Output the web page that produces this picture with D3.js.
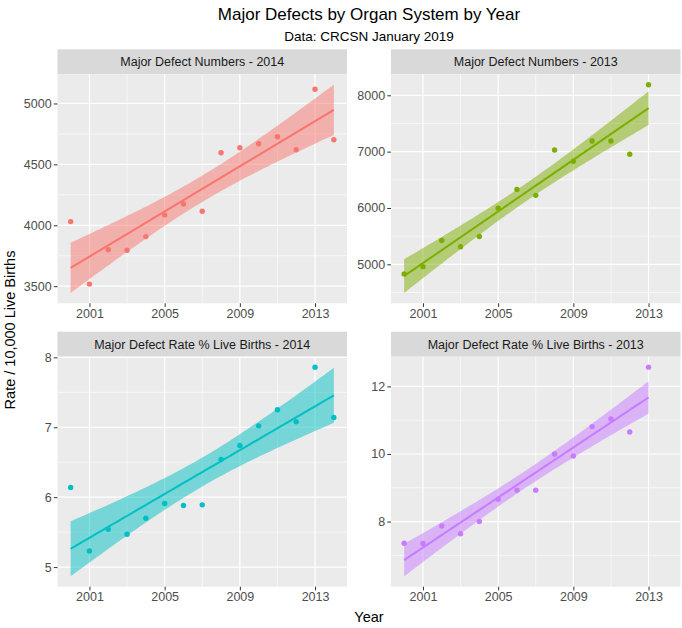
<!DOCTYPE html>
<html><head><meta charset="utf-8">
<script src="https://cdn.jsdelivr.net/npm/d3@7/dist/d3.min.js"></script>
<style>body{margin:0;background:#fff}svg{display:block}</style>
</head><body><svg id="chart" width="682" height="628"></svg>
<script>
// ---------- data ----------
const years2014 = [2000,2001,2002,2003,2004,2005,2006,2007,2008,2009,2010,2011,2012,2013,2014];
const years2013 = [2000,2001,2002,2003,2004,2005,2006,2007,2008,2009,2010,2011,2012,2013];
const numbers2014 = [4030,3517,3800,3795,3907,4085,4175,4115,4596,4637,4669,4727,4620,5117,4702];
const numbers2013 = [4830,4959,5424,5312,5494,5994,6330,6224,7029,6830,7188,7188,6953,8188];
const rate2014 = [6.14,5.23,5.54,5.47,5.70,5.91,5.88,5.89,6.54,6.74,7.02,7.25,7.08,7.86,7.14];
const rate2013 = [7.36,7.35,7.87,7.64,8.00,8.66,8.93,8.93,10.00,9.94,10.81,11.04,10.65,12.57];
const panelTitles = ["Major Defect Numbers - 2014","Major Defect Numbers - 2013","Major Defect Rate % Live Births - 2014","Major Defect Rate % Live Births - 2013"];
const panelColors = ["#F8766D","#7CAE00","#00BFC4","#C77CFF"];
const xTicks = [2001,2005,2009,2013];
const yTicksNum2014 = [3500,4000,4500,5000];
const yTicksNum2013 = [5000,6000,7000,8000];
const yTicksRate2014 = [5,6,7,8];
const yTicksRate2013 = [8,10,12];
const titleText = "Major Defects by Organ System by Year";
const subtitleText = "Data: CRCSN January 2019";
const xTitle = "Year";
const yTitle = "Rate / 10,000 Live Births";
// Student t 97.5% quantiles by residual degrees of freedom (for 95% lm band)
const tQuant = {12: 2.178813, 13: 2.160369};

// ---------- layout ----------
const svg = d3.select("#chart");
const FONT = "'Liberation Sans', Arial, sans-serif";
const cols = [[57.5, 347], [391, 680.5]];
const rows = [[74.3, 303.3], [356.7, 586.7]];
const stripH = 25;

const panels = [
  {years: years2014, values: numbers2014, ticks: yTicksNum2014},
  {years: years2013, values: numbers2013, ticks: yTicksNum2013},
  {years: years2014, values: rate2014, ticks: yTicksRate2014},
  {years: years2013, values: rate2013, ticks: yTicksRate2013}
];

// shared x scale domain (all years, expanded 5%)
const allYears = years2014.concat(years2013);
const xmin = d3.min(allYears), xmax = d3.max(allYears);
const xpad = (xmax - xmin) * 0.05;
const xDomain = [xmin - xpad, xmax + xpad];

function fitLm(xs, ys) {
  const n = xs.length;
  const mx = d3.mean(xs), my = d3.mean(ys);
  let sxx = 0, sxy = 0;
  xs.forEach((x, i) => { sxx += (x - mx) ** 2; sxy += (x - mx) * (ys[i] - my); });
  const b = sxy / sxx, a = my - b * mx;
  let sse = 0;
  xs.forEach((x, i) => { sse += (ys[i] - (a + b * x)) ** 2; });
  const s = Math.sqrt(sse / (n - 2));
  const t = tQuant[n - 2];
  const pts = d3.range(80).map(k => {
    const x = d3.min(xs) + (d3.max(xs) - d3.min(xs)) * k / 79;
    const yhat = a + b * x;
    const se = s * Math.sqrt(1 / n + (x - mx) ** 2 / sxx);
    return {x, y: yhat, lo: yhat - t * se, hi: yhat + t * se};
  });
  return pts;
}

panels.forEach((p, i) => {
  const [x0, x1] = cols[i % 2];
  const [y0, y1] = rows[Math.floor(i / 2)];
  const color = panelColors[i];
  const fit = fitLm(p.years, p.values);
  const lo = Math.min(d3.min(p.values), d3.min(fit, d => d.lo));
  const hi = Math.max(d3.max(p.values), d3.max(fit, d => d.hi));
  const pad = (hi - lo) * 0.05;
  const x = d3.scaleLinear().domain(xDomain).range([x0, x1]);
  const y = d3.scaleLinear().domain([lo - pad, hi + pad]).range([y1, y0]);

  const g = svg.append("g");
  // strip
  g.append("rect").attr("x", x0).attr("y", y0 - stripH).attr("width", x1 - x0).attr("height", stripH).attr("fill", "#D9D9D9");
  g.append("text").attr("x", (x0 + x1) / 2).attr("y", y0 - stripH / 2).attr("dy", "0.35em")
    .attr("text-anchor", "middle").attr("font-family", FONT).attr("font-size", 12.5).attr("fill", "#1A1A1A")
    .text(panelTitles[i]);
  // panel background
  g.append("rect").attr("x", x0).attr("y", y0).attr("width", x1 - x0).attr("height", y1 - y0).attr("fill", "#EBEBEB");

  // minor grid
  const xMinor = [];
  for (let k = 0; k < xTicks.length - 1; k++) xMinor.push((xTicks[k] + xTicks[k + 1]) / 2);
  const xStep = xTicks[1] - xTicks[0];
  xMinor.push(xTicks[0] - xStep / 2, xTicks[xTicks.length - 1] + xStep / 2);
  const yMinor = [];
  const yStep = p.ticks[1] - p.ticks[0];
  for (let k = -1; k < p.ticks.length; k++) yMinor.push(p.ticks[0] + yStep * (k + 0.5));
  const inX = v => v >= xDomain[0] && v <= xDomain[1];
  const inY = v => v >= y.domain()[0] && v <= y.domain()[1];
  g.selectAll(null).data(xMinor.filter(inX)).join("line")
    .attr("x1", d => x(d)).attr("x2", d => x(d)).attr("y1", y0).attr("y2", y1)
    .attr("stroke", "#fff").attr("stroke-width", 0.6);
  g.selectAll(null).data(yMinor.filter(inY)).join("line")
    .attr("y1", d => y(d)).attr("y2", d => y(d)).attr("x1", x0).attr("x2", x1)
    .attr("stroke", "#fff").attr("stroke-width", 0.6);
  // major grid
  g.selectAll(null).data(xTicks).join("line")
    .attr("x1", d => x(d)).attr("x2", d => x(d)).attr("y1", y0).attr("y2", y1)
    .attr("stroke", "#fff").attr("stroke-width", 1.2);
  g.selectAll(null).data(p.ticks.filter(inY)).join("line")
    .attr("y1", d => y(d)).attr("y2", d => y(d)).attr("x1", x0).attr("x2", x1)
    .attr("stroke", "#fff").attr("stroke-width", 1.2);

  // ribbon
  g.append("path").datum(fit)
    .attr("d", d3.area().x(d => x(d.x)).y0(d => y(d.lo)).y1(d => y(d.hi)))
    .attr("fill", color).attr("fill-opacity", 0.5);
  // line
  g.append("path").datum(fit)
    .attr("d", d3.line().x(d => x(d.x)).y(d => y(d.y)))
    .attr("fill", "none").attr("stroke", color).attr("stroke-width", 2);
  // points
  g.selectAll(null).data(p.values.map((v, k) => [p.years[k], v])).join("circle")
    .attr("cx", d => x(d[0])).attr("cy", d => y(d[1])).attr("r", 2.7).attr("fill", color);

  // axes
  const yAxis = g.append("g").attr("transform", `translate(${x0},0)`)
    .call(d3.axisLeft(y).tickValues(p.ticks.filter(inY)).tickSize(3.7).tickPadding(2.2).tickFormat(d3.format("d")));
  yAxis.select(".domain").remove();
  yAxis.selectAll(".tick line").attr("stroke", "#333").attr("stroke-width", 1);
  yAxis.selectAll("text").attr("font-family", FONT).attr("font-size", 12.5).attr("fill", "#4D4D4D");
  const xAxis = g.append("g").attr("transform", `translate(0,${y1})`)
    .call(d3.axisBottom(x).tickValues(xTicks).tickSize(3.7).tickPadding(2.2).tickFormat(d3.format("d")));
  xAxis.select(".domain").remove();
  xAxis.selectAll(".tick line").attr("stroke", "#333").attr("stroke-width", 1);
  xAxis.selectAll("text").attr("font-family", FONT).attr("font-size", 12.5).attr("fill", "#4D4D4D");
});

// titles
const cx = (cols[0][0] + cols[1][1]) / 2;
svg.append("text").attr("x", cx).attr("y", 20).attr("text-anchor", "middle")
  .attr("font-family", FONT).attr("font-size", 17).attr("fill", "#000").text(titleText);
svg.append("text").attr("x", cx).attr("y", 41).attr("text-anchor", "middle")
  .attr("font-family", FONT).attr("font-size", 13.5).attr("fill", "#000").text(subtitleText);
svg.append("text").attr("x", cx).attr("y", 622).attr("text-anchor", "middle")
  .attr("font-family", FONT).attr("font-size", 14.5).attr("fill", "#000").text(xTitle);
svg.append("text").attr("transform", `translate(15,330) rotate(-90)`)
  .attr("text-anchor", "middle").attr("font-family", FONT).attr("font-size", 14.5).attr("fill", "#000").text(yTitle);
</script>
</body></html>
